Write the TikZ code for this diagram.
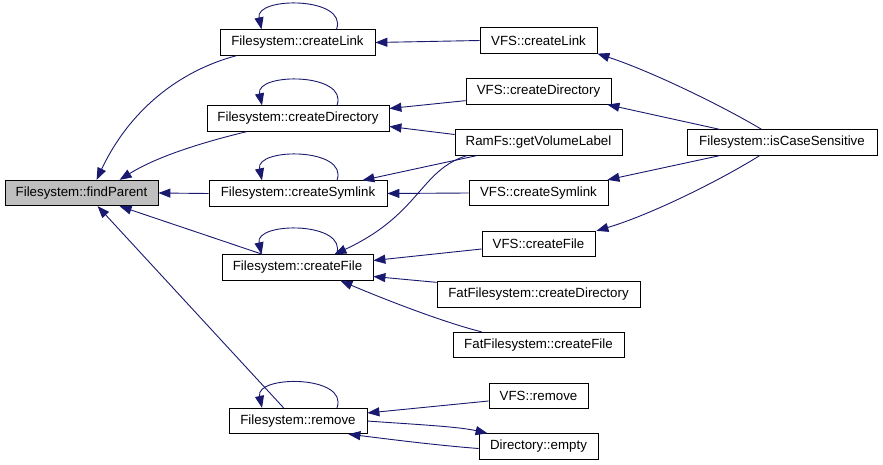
\documentclass[tikz,border=0pt]{standalone}
\usepackage{fontspec}
\setmainfont{Liberation Sans}
\usetikzlibrary{arrows.meta,calc}
\definecolor{edgecol}{HTML}{191970}
\begin{document}
\begin{tikzpicture}[x=1pt,y=-1pt,
  box/.style={draw=black,line width=0.8pt,fill=white,minimum height=25.5pt,inner sep=0pt,
    font=\fontsize{13.3}{16}\selectfont},
  edge/.style={draw=edgecol,line width=0.9pt,-{Triangle[length=12pt,width=9pt]}}]
\useasboundingbox[fill=white] (0,0) rectangle (883,465);
% nodes
\node[box,fill={rgb,255:red,191;green,191;blue,191},minimum width=153pt] (fp) at (81.5,193) {Filesystem::findParent};
\node[box,minimum width=155pt] (cl) at (297.5,42.5) {Filesystem::createLink};
\node[box,minimum width=182pt] (cd) at (298,118.5) {Filesystem::createDirectory};
\node[box,minimum width=178pt] (cs) at (298,193.5) {Filesystem::createSymlink};
\node[box,minimum width=151pt] (cf) at (297.5,267.5) {Filesystem::createFile};
\node[box,minimum width=138pt] (rm) at (298,421) {Filesystem::remove};
\node[box,minimum width=117pt] (vcl) at (538.5,40.5) {VFS::createLink};
\node[box,minimum width=145pt] (vcd) at (538.5,91.5) {VFS::createDirectory};
\node[box,minimum width=167pt] (rgv) at (538.5,142.5) {RamFs::getVolumeLabel};
\node[box,minimum width=190pt] (ics) at (782,142.5) {Filesystem::isCaseSensitive};
\node[box,minimum width=139pt] (vcs) at (538.5,193) {VFS::createSymlink};
\node[box,minimum width=113pt] (vcf) at (538.5,244) {VFS::createFile};
\node[box,minimum width=203pt] (fcd) at (538.5,294.5) {FatFilesystem::createDirectory};
\node[box,minimum width=171pt] (fcf) at (538.5,345) {FatFilesystem::createFile};
\node[box,minimum width=99pt] (vrm) at (538.5,396) {VFS::remove};
\node[box,minimum width=119pt] (de) at (538.5,446.5) {Directory::empty};
% edges into findParent
\draw[edge] ($(cl.south west)+(17,0)$) .. controls +(-57,15) and +(33,-70) .. ($(fp.north west)+(92,0)$);
\draw[edge] ($(cd.south west)+(40,0)$) .. controls +(-37,9) and +(40,-25) .. ($(fp.north west)+(115,0)$);
\draw[edge] (cs.west) -- (fp.east);
\draw[edge] ($(cf.north west)+(41,0)$) -- ($(fp.south west)+(115,0)$);
\draw[edge] ($(rm.north west)+(55,0)$) -- ($(fp.south west)+(93,0)$);
% self loops
\foreach \n in {cl,cd,cs,cf,rm}{
  \draw[edge] ($(\n.north)+(39,0)$) .. controls +(12,-33) and +(-7,-33) .. ($(\n.north)+(-36,0)$);
}
% second column to first
\draw[edge] (vcl.west) -- (cl.east);
\draw[edge] ($(vcd.south west)+(0,-4)$) -- ($(cd.east)+(0,-10)$);
\draw[edge] ($(rgv.west)+(0,-8)$) -- ($(cd.east)+(0,8)$);
\draw[edge] ($(rgv.south west)+(22,0)$) -- ($(cs.north east)+(-25,0)$);
\draw[edge] ($(rgv.south west)+(12,0)$) .. controls +(-47,15) and +(86,-40) .. ($(cf.north east)+(-39,0)$);
\draw[edge] (vcs.west) -- (cs.east);
\draw[edge] ($(vcf.west)+(0,5)$) -- ($(cf.east)+(0,-7)$);
\draw[edge] ($(fcd.north west)+(0,1)$) -- ($(cf.east)+(0,9)$);
\draw[edge] ($(fcf.north west)+(29,0)$) .. controls +(-40,-10) and +(40,17) .. ($(cf.south east)+(-33,0)$);
\draw[edge] ($(vrm.west)+(0,5)$) -- ($(rm.east)+(0,-8)$);
\draw[edge] (rm.east) .. controls +(40,3) and +(-30,-7) .. ($(de.north west)+(9,0)$);
\draw[edge] ($(de.west)+(0,2)$) .. controls +(-40,-3) and +(40,5) .. ($(rm.south east)+(-19,0)$);
% isCaseSensitive
\draw[edge] ($(ics.north west)+(75,0)$) .. controls +(-42,-25) and +(52,17) .. (vcl.south east);
\draw[edge] ($(ics.north west)+(33,0)$) -- ($(vcd.south east)+(-4,0)$);
\draw[edge] ($(ics.south west)+(33,0)$) -- ($(vcs.north east)+(-1,0)$);
\draw[edge] ($(ics.south west)+(73,0)$) .. controls +(-40,25) and +(54,-16) .. ($(vcf.north east)+(1,0)$);
\end{tikzpicture}
\end{document}
